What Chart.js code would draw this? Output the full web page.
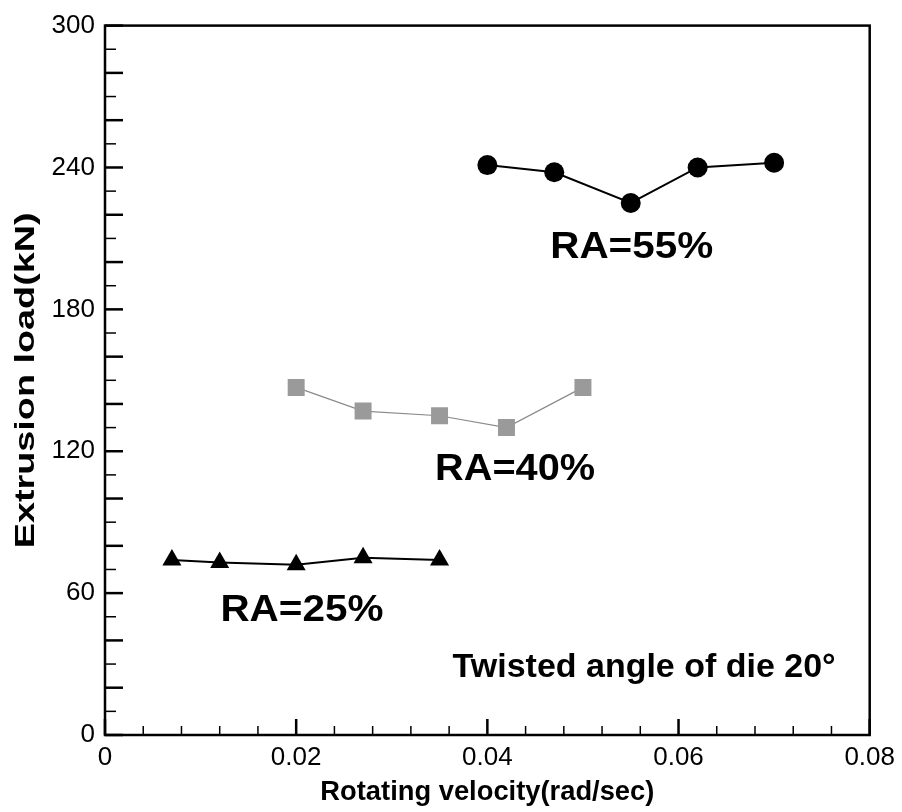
<!DOCTYPE html>
<html>
<head>
<meta charset="utf-8">
<script src="https://cdn.jsdelivr.net/npm/chart.js@4.4.1/dist/chart.umd.min.js"></script>
<style>
  html, body { margin: 0; padding: 0; background: #fff; }
  #wrap { width: 902px; height: 812px; }
</style>
</head>
<body>
<div id="wrap"><canvas id="chart" width="902" height="812"></canvas></div>
<script>
// Data (twisted angle of die 20 deg)
const ra25X = [0.007, 0.012, 0.020, 0.027, 0.035];
const ra25Y = [74, 73, 72, 75, 74];
const ra40X = [0.020, 0.027, 0.035, 0.042, 0.050];
const ra40Y = [147, 137, 135, 130, 147];
const ra55X = [0.040, 0.047, 0.055, 0.062, 0.070];
const ra55Y = [241, 238, 225, 240, 242];

// Axis ranges / ticks
const xMin = 0, xMax = 0.08, xStep = 0.004;
const yMin = 0, yMax = 300, yStep = 10;
const xLabelEvery = 0.02;
const yLabelEvery = 60;

const FONT = '"Liberation Sans", Arial, Helvetica, sans-serif';

const toPoints = (xs, ys) => xs.map((x, i) => ({ x: x, y: ys[i] }));

// Text drawn inside the plot, anchored in data units
const notes = [
    { text: 'RA=55%', x: 0.0551, y: 206, size: 36, width: 163 },
    { text: 'RA=40%', x: 0.0429, y: 112, size: 36, width: 160 },
    { text: 'RA=25%', x: 0.0206, y: 52.5, size: 36, width: 163 },
    { text: 'Twisted angle of die 20°', x: 0.0564, y: 28.5, size: 33, width: 383 }
];

function fitText(ctx, text, size, width) {
    ctx.font = `bold ${size}px ${FONT}`;
    const w = ctx.measureText(text).width;
    return width / w;
}

// Frame, inward ticks, notes and axis titles
const framePlugin = {
    id: 'frame',
    afterDraw(chart) {
        const { ctx, chartArea: a, scales: { x, y } } = chart;
        ctx.save();
        ctx.strokeStyle = '#000';
        ctx.lineWidth = 2.5;
        ctx.strokeRect(a.left, a.top, a.right - a.left, a.bottom - a.top);

        // inward ticks on left axis
        y.ticks.forEach(t => {
            const py = y.getPixelForValue(t.value);
            const major = Math.round(t.value) % 20 === 0;
            ctx.lineWidth = major ? 2.5 : 1.5;
            ctx.beginPath();
            ctx.moveTo(a.left, py);
            ctx.lineTo(a.left + (major ? 18 : 11), py);
            ctx.stroke();
        });
        // inward ticks on bottom axis
        x.ticks.forEach(t => {
            const px = x.getPixelForValue(t.value);
            const major = Math.round(t.value * 1000) % 20 === 0;
            ctx.lineWidth = major ? 2.5 : 1.5;
            ctx.beginPath();
            ctx.moveTo(px, a.bottom);
            ctx.lineTo(px, a.bottom - (major ? 16 : 9));
            ctx.stroke();
        });

        // notes
        ctx.fillStyle = '#000';
        ctx.textAlign = 'center';
        ctx.textBaseline = 'middle';
        notes.forEach(n => {
            const sx = fitText(ctx, n.text, n.size, n.width);
            ctx.save();
            ctx.translate(x.getPixelForValue(n.x), y.getPixelForValue(n.y));
            ctx.scale(sx, 1);
            ctx.fillText(n.text, 0, 0);
            ctx.restore();
        });

        // axis titles
        const cx = (a.left + a.right) / 2;
        const cy = (a.top + a.bottom) / 2;
        ctx.textBaseline = 'alphabetic';
        let s = fitText(ctx, 'Rotating velocity(rad/sec)', 27, 334);
        ctx.save();
        ctx.translate(cx, 800);
        ctx.scale(s, 1);
        ctx.fillText('Rotating velocity(rad/sec)', 0, 0);
        ctx.restore();

        s = fitText(ctx, 'Extrusion load(kN)', 27, 336);
        ctx.save();
        ctx.translate(34, cy);
        ctx.rotate(-Math.PI / 2);
        ctx.scale(s, 1);
        ctx.fillText('Extrusion load(kN)', 0, 0);
        ctx.restore();
        ctx.restore();
    }
};

new Chart(document.getElementById('chart'), {
    type: 'scatter',
    data: {
        datasets: [
            {
                label: 'RA=25%',
                data: toPoints(ra25X, ra25Y),
                showLine: true,
                borderColor: '#000',
                borderWidth: 2,
                backgroundColor: '#000',
                pointStyle: 'triangle',
                pointRadius: 11,
                pointBorderWidth: 0
            },
            {
                label: 'RA=40%',
                data: toPoints(ra40X, ra40Y),
                showLine: true,
                borderColor: '#8a8a8a',
                borderWidth: 1.2,
                backgroundColor: '#9a9a9a',
                pointStyle: 'rect',
                pointRadius: 12,
                pointBorderWidth: 0
            },
            {
                label: 'RA=55%',
                data: toPoints(ra55X, ra55Y),
                showLine: true,
                borderColor: '#000',
                borderWidth: 2,
                backgroundColor: '#000',
                pointStyle: 'circle',
                pointRadius: 10,
                pointBorderWidth: 0
            }
        ]
    },
    options: {
        responsive: false,
        animation: false,
        devicePixelRatio: 1,
        layout: { padding: { top: 19, right: 31, left: 0, bottom: 0 } },
        plugins: {
            legend: { display: false },
            tooltip: { enabled: false }
        },
        scales: {
            x: {
                type: 'linear',
                min: xMin,
                max: xMax,
                grid: { display: false, drawTicks: false },
                border: { display: false },
                ticks: {
                    stepSize: xStep,
                    autoSkip: false,
                    maxRotation: 0,
                    padding: 7,
                    color: '#000',
                    font: { family: FONT, size: 26 },
                    callback: v => {
                        const r = Math.round(v * 1000);
                        if (r % (xLabelEvery * 1000) !== 0) return '';
                        return r === 0 ? '0' : (r / 1000).toFixed(2);
                    }
                },
                afterFit: s => { s.height = 77; }
            },
            y: {
                type: 'linear',
                min: yMin,
                max: yMax,
                grid: { display: false, drawTicks: false },
                border: { display: false },
                ticks: {
                    stepSize: yStep,
                    autoSkip: false,
                    padding: 10,
                    color: '#000',
                    font: { family: FONT, size: 26 },
                    callback: v => (Math.round(v) % yLabelEvery === 0 ? String(Math.round(v)) : '')
                },
                afterFit: s => { s.width = 105; }
            }
        }
    },
    plugins: [framePlugin]
});
</script>
</body>
</html>
